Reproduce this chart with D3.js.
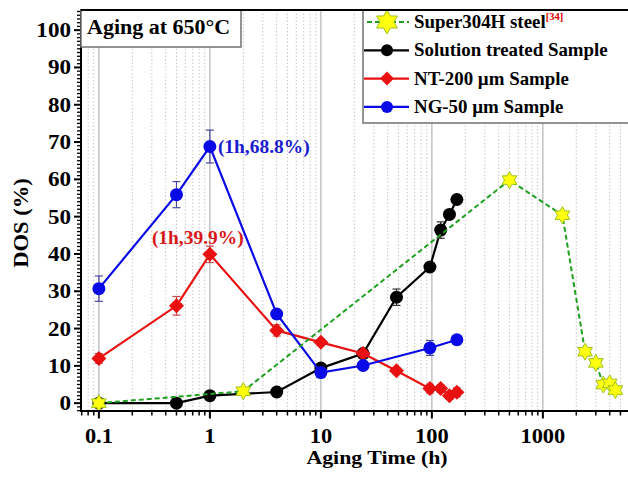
<!DOCTYPE html>
<html>
<head>
<meta charset="utf-8">
<script src="https://cdn.jsdelivr.net/npm/d3@7"></script>
<style>
  body { margin: 0; background: #fff; }
  svg text { font-family: "Liberation Serif", "Times New Roman", serif; font-weight: bold; }
</style>
</head>
<body>
<svg width="628" height="478"></svg>
<script>
// aging data (hours, DOS %)
const hoursSol = [0.1, 0.5, 1, 4, 10, 24, 48, 96, 120, 144, 168];
const dosSol   = [0, 0, 2, 3, 9.4, 13.3, 28.4, 36.5, 46.4, 50.6, 54.6];
const errSol   = [0.5, 0.5, 0.6, 0.6, 0.8, 1.0, 2.2, 1.2, 2.2, 0.8, 1.0];

const hoursNT = [0.1, 0.5, 1, 4, 10, 24, 48, 96, 120, 144, 168];
const dosNT   = [12, 26.1, 39.9, 19.5, 16.3, 13.3, 8.7, 3.9, 3.9, 2.0, 2.9];
const errNT   = [1.3, 2.5, 2.2, 1.5, 0.8, 0.8, 0.8, 1.2, 1.0, 1.0, 1.2];

const hoursNG = [0.1, 0.5, 1, 4, 10, 24, 96, 168];
const dosNG   = [30.7, 55.9, 68.8, 23.9, 8.2, 10.1, 14.8, 17.0];
const errNG   = [3.4, 3.5, 4.4, 0.8, 1.3, 0.8, 2.0, 0.8];

const hoursRef = [0.1, 2, 500, 1500, 2400, 3000, 3500, 4000, 4500];
const dosRef   = [0, 3.2, 59.8, 50.4, 13.8, 10.8, 5.0, 5.3, 3.5];

const xTickLabels = [0.1, 1, 10, 100, 1000];
const yTickLabels = [0, 10, 20, 30, 40, 50, 60, 70, 80, 90, 100];

const legendNames = ["Super304H steel", "Solution treated Sample", "NT-200 \u00b5m Sample", "NG-50 \u00b5m Sample"];

const svg = d3.select("svg");

const padL = 81, padR = 640, padT = 10, padB = 411;
const x = d3.scaleLog().domain([0.069, 7500]).range([padL, padR]);
const y = d3.scaleLinear().domain([-2.1, 105.4]).range([padB, padT]);

// text helper - the original figure's lettering is a bit wide
function label(g, px, py, str, size, sx, anchor, fill) {
  return g.append("text")
    .attr("transform", `translate(${px},${py}) scale(${sx},1)`)
    .attr("font-size", size)
    .attr("text-anchor", anchor || "start")
    .attr("fill", fill || "#000")
    .text(str);
}

// all the minor decade ticks
const minors = [];
for (let e = -2; e <= 3; e++) {
  for (let m = 2; m <= 9; m++) {
    const v = m * Math.pow(10, e);
    if (v > x.domain()[0] && v < x.domain()[1]) minors.push(v);
  }
}

// grid
const grid = svg.append("g");
grid.selectAll(".minor").data(minors).enter().append("line")
  .attr("x1", d => x(d)).attr("x2", d => x(d))
  .attr("y1", padT).attr("y2", padB)
  .attr("stroke", "#c8c8c8").attr("stroke-width", 1).attr("stroke-dasharray", "1.5,2");
grid.selectAll(".major").data(xTickLabels).enter().append("line")
  .attr("x1", d => x(d)).attr("x2", d => x(d))
  .attr("y1", padT).attr("y2", padB)
  .attr("stroke", "#b4b4b4").attr("stroke-width", 1.2);

// series
const series = [
  { xs: hoursSol, ys: dosSol, err: errSol, color: "#000", capColor: "#333", shape: "circle" },
  { xs: hoursNT, ys: dosNT, err: errNT, color: "#e81010", capColor: "#c84848", shape: "diamond" },
  { xs: hoursNG, ys: dosNG, err: errNG, color: "#0a0ae6", capColor: "#4a4aa0", shape: "circle" },
  { xs: hoursRef, ys: dosRef, err: null, color: "#1fa01f", shape: "star" }
];

function star6(r) {
  const pts = [];
  for (let k = 0; k < 12; k++) {
    const a = -Math.PI / 2 + k * Math.PI / 6;
    const rr = k % 2 === 0 ? r : r * 0.58;
    pts.push([rr * Math.cos(a), rr * Math.sin(a)]);
  }
  return "M" + pts.map(p => p.join(",")).join("L") + "Z";
}

function drawMarker(g, shape, color, big) {
  if (shape === "circle") {
    g.append("circle").attr("r", big ? 6 : 6.5).attr("fill", color);
  } else if (shape === "diamond") {
    const s = big ? 7 : 7.5;
    g.append("path").attr("d", `M0,${-s}L${s},0L0,${s}L${-s},0Z`).attr("fill", color);
  } else {
    g.append("path").attr("d", star6(big ? 12 : 8.5))
      .attr("fill", "#ffff10").attr("stroke", "#9cc21c").attr("stroke-width", 1);
  }
}

const line = d3.line().x(d => x(d[0])).y(d => y(d[1]));

series.forEach(s => {
  const pts = s.xs.map((h, i) => [h, s.ys[i], s.err ? s.err[i] : 0]);
  const g = svg.append("g");
  g.append("path").datum(pts)
    .attr("d", line)
    .attr("fill", "none")
    .attr("stroke", s.color)
    .attr("stroke-width", s.shape === "star" ? 2 : 2.2)
    .attr("stroke-dasharray", s.shape === "star" ? "5,3" : null);
  if (s.err) {
    const eb = g.selectAll(".eb").data(pts).enter().append("g")
      .attr("stroke", s.capColor).attr("stroke-width", 1.2);
    eb.append("line")
      .attr("x1", d => x(d[0])).attr("x2", d => x(d[0]))
      .attr("y1", d => y(d[1] - d[2])).attr("y2", d => y(d[1] + d[2]));
    [-1, 1].forEach(sign => {
      eb.append("line")
        .attr("x1", d => x(d[0]) - 4).attr("x2", d => x(d[0]) + 4)
        .attr("y1", d => y(d[1] + sign * d[2])).attr("y2", d => y(d[1] + sign * d[2]));
    });
  }
  g.selectAll(".pt").data(pts).enter().append("g")
    .attr("transform", d => `translate(${x(d[0])},${y(d[1])})`)
    .each(function () { drawMarker(d3.select(this), s.shape, s.color, false); });
});

// point annotations
label(svg, x(1) + 8, y(68.8) + 6, "(1h,68.8%)", 18, 1.08, "start", "#1a1ad0");
label(svg, x(1) - 58, y(39.9) - 10, "(1h,39.9%)", 18, 1.08, "start", "#d81818");

// axes
const axes = svg.append("g").attr("stroke", "#000");
axes.append("line").attr("x1", padL).attr("x2", padR).attr("y1", padB).attr("y2", padB).attr("stroke-width", 2);
axes.append("line").attr("x1", padL).attr("x2", padL).attr("y1", padT - 1).attr("y2", padB + 1).attr("stroke-width", 2);

axes.selectAll(".xmin").data(minors).enter().append("line")
  .attr("x1", d => x(d)).attr("x2", d => x(d))
  .attr("y1", padB).attr("y2", padB + 4.5).attr("stroke-width", 1.5);
axes.selectAll(".xmaj").data(xTickLabels).enter().append("line")
  .attr("x1", d => x(d)).attr("x2", d => x(d))
  .attr("y1", padB).attr("y2", padB + 7.5).attr("stroke-width", 2);

const yMinors = d3.range(-2, 106, 1).filter(v => v % 10 !== 0);
axes.selectAll(".ymin").data(yMinors).enter().append("line")
  .attr("x1", padL - 4).attr("x2", padL)
  .attr("y1", d => y(d)).attr("y2", d => y(d)).attr("stroke-width", 1.3);
axes.selectAll(".ymaj").data(yTickLabels).enter().append("line")
  .attr("x1", padL - 7).attr("x2", padL)
  .attr("y1", d => y(d)).attr("y2", d => y(d)).attr("stroke-width", 2);

xTickLabels.forEach(v => label(svg, x(v), padB + 32, String(v), 20, 1.12, "middle"));
yTickLabels.forEach(v => label(svg, padL - 10, y(v) + 7, String(v), 21, 1.1, "end"));

label(svg, 377, 464, "Aging Time (h)", 19, 1.15, "middle");
svg.append("text")
  .attr("transform", `translate(28,${y(48.3)}) rotate(-90) scale(1.13,1)`)
  .attr("font-size", 20)
  .attr("text-anchor", "middle")
  .text("DOS (%)");

// "Aging at 650°C" box
svg.append("rect").attr("x", padL).attr("y", padT).attr("width", 160).attr("height", 37)
  .attr("fill", "#fff").attr("stroke", "#707070").attr("stroke-width", 1.5);
label(svg, padL + 6, padT + 24, "Aging at 650\u00b0C", 20, 1.1, "start");

// legend
const leg = svg.append("g");
leg.append("rect").attr("x", 363).attr("y", padT).attr("width", 300).attr("height", 113)
  .attr("fill", "#fff").attr("stroke", "#707070").attr("stroke-width", 1.5);
const legSeries = [series[3], series[0], series[1], series[2]];
legSeries.forEach((s, i) => {
  const cy = 22 + i * 28.3;
  const row = leg.append("g").attr("transform", `translate(0,${cy})`);
  row.append("line").attr("x1", s.shape === "star" ? 367 : 364).attr("x2", 409)
    .attr("stroke", s.color).attr("stroke-width", 2.2)
    .attr("stroke-dasharray", s.shape === "star" ? "5,3" : null);
  const m = row.append("g").attr("transform", `translate(387,0)`);
  drawMarker(m, s.shape, s.color, true);
  const t = label(row, 414, 6, legendNames[i], 18, 1.05, "start");
  if (i === 0) {
    t.append("tspan").attr("dy", -8).attr("font-size", 10).attr("fill", "#e00000").text("[34]");
  }
});

// top frame
svg.append("line").attr("x1", padL).attr("x2", padR).attr("y1", padT).attr("y2", padT)
  .attr("stroke", "#000").attr("stroke-width", 2);
</script>
</body>
</html>
